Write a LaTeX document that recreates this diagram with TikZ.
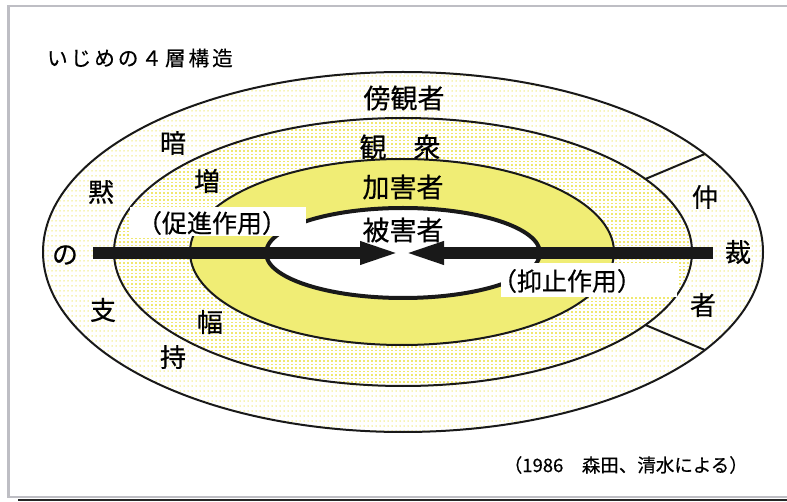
\documentclass[tikz,border=0pt]{standalone}
\usepackage{fontspec}
\setmainfont[FakeBold=0.5]{Noto Sans CJK JP}
\usetikzlibrary{calc}
\usetikzlibrary{arrows.meta}
\usetikzlibrary{patterns}
\definecolor{bandyellow}{RGB}{240,237,117}
\definecolor{dotyellow}{RGB}{240,232,110}
\definecolor{framegray}{RGB}{190,190,196}
\pgfdeclarepatternformonly{sparse dots}{\pgfqpoint{-1pt}{-1pt}}{\pgfqpoint{1pt}{1pt}}{\pgfqpoint{4pt}{5pt}}{%
  \pgfpathcircle{\pgfqpoint{0pt}{0pt}}{0.75pt}\pgfusepath{fill}}
\pgfdeclarepatternformonly{dense dots}{\pgfqpoint{-1pt}{-1pt}}{\pgfqpoint{1pt}{1pt}}{\pgfqpoint{4pt}{3.5pt}}{%
  \pgfpathrectangle{\pgfqpoint{-1pt}{-0.8pt}}{\pgfqpoint{2pt}{1.6pt}}\pgfusepath{fill}}
\tikzset{
  ringline/.style={black!90, line width=2},
  layername/.style={inner sep=0, font=\fontsize{27}{30}\selectfont},
  sidechar/.style={inner sep=0, font=\fontsize{26}{28}\selectfont},
  notebox/.style={fill=white, inner sep=0, minimum width=176},
  notetext/.style={inner sep=0, font=\fontsize{25}{28}\selectfont},
}

\begin{document}
\begin{tikzpicture}[x=1pt, y=1pt]
\useasboundingbox (0,0) rectangle (787,501);
% frame and its shadow
\draw[framegray, line width=2.5] (8.5,4) rectangle (800,495);
\draw[black!85, line width=2] (18,1) -- (800,1);

% the four layers
\draw[ringline, preaction={fill=white}, pattern=sparse dots, pattern color=dotyellow] (403,249) ellipse [x radius=360, y radius=180];
\draw[ringline, preaction={fill=white}, pattern=dense dots, pattern color=dotyellow] (403,249) ellipse [x radius=289, y radius=134];
\draw[ringline, fill=bandyellow] (402,249) ellipse [x radius=212, y radius=93];
\draw[black!90, line width=4, fill=white] (403,248) ellipse [x radius=137, y radius=45];

\foreach \a in {33,-33} {
  \draw[ringline] ($(403,249)+(\a:289 and 134)$) -- ($(403,249)+(\a:360 and 180)$);
}

\node[anchor=west, inner sep=0, font=\fontsize{20.5}{24}\selectfont\addfontfeature{LetterSpace=15}] (title) at (47,443) {いじめの４層構造};

\node[layername] (bystander) at (404,403) {傍観者};
\node[layername] (audience) at (400,354) {観\hspace{1em}衆};
\node[layername] (bully) at (403,314) {加害者};
\node[layername] (victim) at (403,271) {被害者};

\foreach \ch/\x/\y [count=\i] in {暗/173/358, 黙/101/309, の/65/246, 支/103/191, 持/173/144, 増/207/320, 幅/210/179, 仲/705/304, 裁/738/249, 者/703/196}
  \node[sidechar] (side\i) at (\x,\y) {\ch};

% promoting and curbing effects
\node[notebox, minimum height=29] (promoBox) at (218,279.5) {};
\node[notetext] (promoText) at (212,278) {（促進作用）};
\node[notebox, minimum height=34] (curbBox) at (589,221) {};
\node[notetext] (curbText) at (567,220) {（抑止作用）};

\coordinate (barL) at (93,248);
\coordinate (hub) at (402,248);
\coordinate (barR) at (713,248);
\draw[black!90, line width=12, -{Triangle[length=42pt, width=20pt]}] (barL) -- (hub);
\draw[black!90, line width=12, -{Triangle[length=42pt, width=20pt]}] (barR) -- (hub);

\node[anchor=east, inner sep=0, font=\fontsize{18.5}{22}\selectfont] (credit) at (748,36) {（1986　森田、清水による）};
\end{tikzpicture}
\end{document}
